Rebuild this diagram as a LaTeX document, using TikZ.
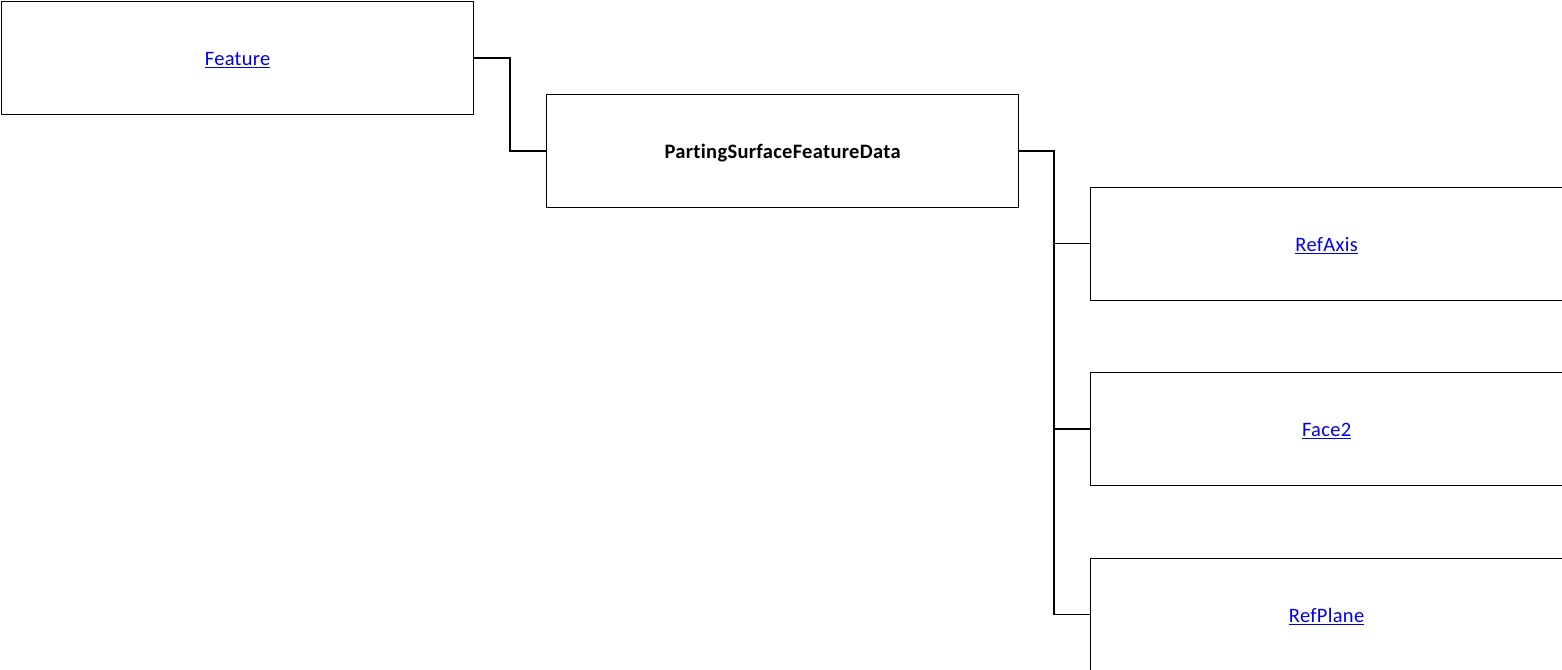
\documentclass[tikz,border=0pt]{standalone}
\usepackage{fontspec}
\setmainfont{Carlito}[Ligatures=NoCommon,LetterSpace=1.5]
\usepackage{xcolor}
\definecolor{linkblue}{RGB}{0,0,238}
\newcommand{\lowtxt}[1]{\raisebox{-2pt}[\height][\depth]{#1}}
\begin{document}
\begin{tikzpicture}[x=1pt,y=-1pt,
  box/.style={draw=black,line width=1.2pt,minimum width=472pt,minimum height=113pt,inner sep=0pt,anchor=north west,font=\fontsize{20.5}{24}\selectfont},
  conn/.style={draw=black,line width=1.6pt}]
\useasboundingbox (0,0) rectangle (1562,669);
\node[box] (feature) at (1,1) {\lowtxt{\textcolor{linkblue}{\underline{Feature}}}};
\node[box,font=\fontsize{20.5}{24}\selectfont\bfseries] (psfd) at (546,94) {\lowtxt{PartingSurfaceFeatureData}};
\node[box] (refaxis) at (1090,186.5) {\lowtxt{\textcolor{linkblue}{\underline{RefAxis}}}};
\node[box] (face2) at (1090,372) {\lowtxt{\textcolor{linkblue}{\underline{Face2}}}};
\node[box] (refplane) at (1090,557.5) {\lowtxt{\textcolor{linkblue}{\underline{RefPlane}}}};
\coordinate (j1) at (510,0);
\coordinate (j2) at (1054,0);
\draw[conn] (feature.east) -- (feature.east -| j1) |- (psfd.west);
\draw[conn] (psfd.east) -- (psfd.east -| j2) |- (refaxis.west);
\draw[conn] (psfd.east -| j2) |- (face2.west);
\draw[conn] (psfd.east -| j2) |- (refplane.west);
\end{tikzpicture}
\end{document}
